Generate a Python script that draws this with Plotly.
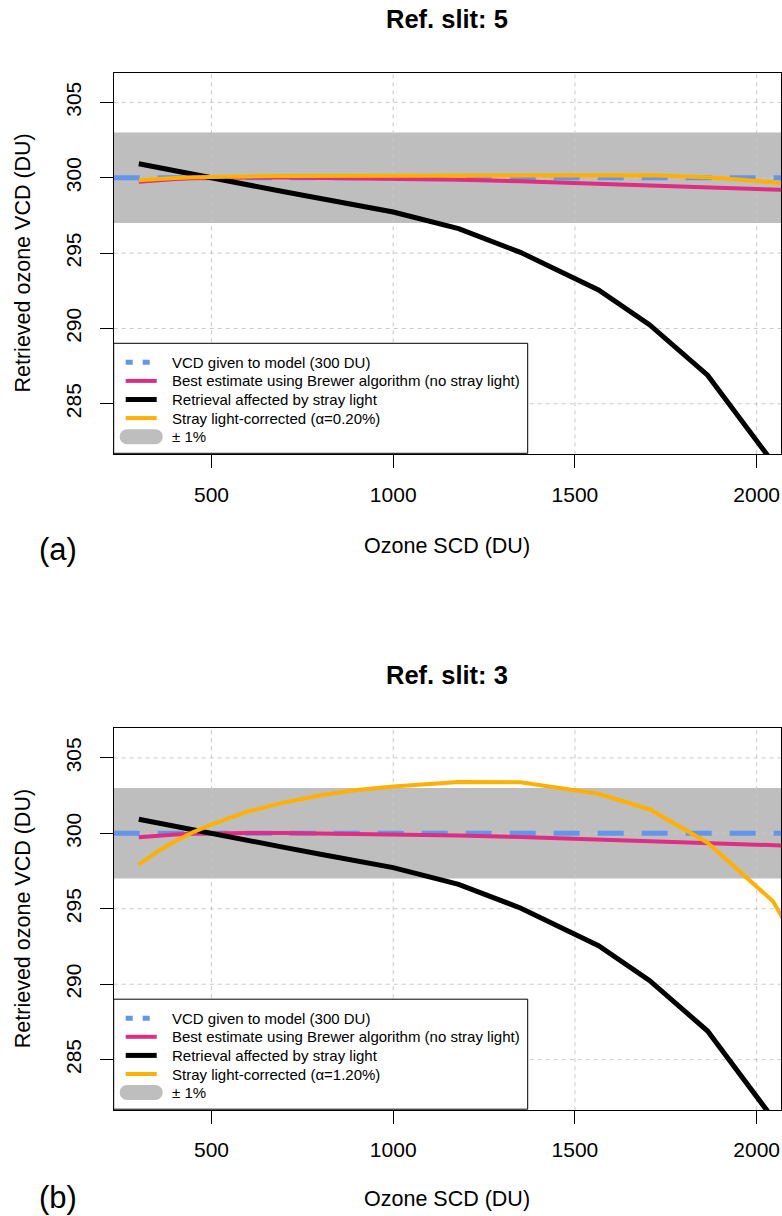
import plotly.graph_objects as go

# ---------------- data ----------------
SCD = [300, 350, 400, 450, 500, 600, 700, 800, 900, 1000, 1180, 1350, 1565, 1705, 1865, 2045, 2100]
BREWER = [299.74, 299.84, 299.92, 299.97, 300.00, 300.02, 300.02, 300.00, 299.97, 299.94,
          299.86, 299.76, 299.58, 299.47, 299.35, 299.22, 299.17]
STRAY = [300.93, 300.69, 300.45, 300.21, 299.97, 299.52, 299.07, 298.62, 298.18, 297.73,
         296.62, 295.05, 292.55, 290.25, 286.90, 281.10, 278.90]
CORR_SLIT5 = [299.84, 299.93, 299.99, 300.03, 300.06, 300.09, 300.11, 300.12, 300.13, 300.13,
              300.14, 300.18, 300.21, 300.17, 300.03, 299.70, 299.52]
CORR_SLIT3 = [297.92, 298.77, 299.48, 300.08, 300.58, 301.45, 302.05, 302.52, 302.88, 303.10,
              303.40, 303.38, 302.62, 301.60, 299.38, 295.50, 293.20]
VCD_MODEL = 300
BAND_FRAC = 0.01
SLITS = ["5", "3"]
ALPHAS = ["0.20", "1.20"]
PANEL_TAGS = ["(a)", "(b)"]
CORRECTED = [CORR_SLIT5, CORR_SLIT3]
X_TICKS = [500, 1000, 1500, 2000]
Y_TICKS = [285, 290, 295, 300, 305]
LEGEND_LABELS = ["VCD given to model (300 DU)",
                 "Best estimate using Brewer algorithm (no stray light)",
                 "Retrieval affected by stray light",
                 "Stray light-corrected (\u03b1={}%)",
                 "\u00b1 1%"]

# ---------------- style ----------------
FONT = "Liberation Sans, Arial, Helvetica, sans-serif"
BLUE = "#6495ED"
PINK = "#DE2D82"
BLACK = "#000000"
ORANGE = "#FFB000"
GREY = "#BEBEBE"
GRID = "#C8C8C8"
W, H = 782, 1216
X_RANGE = [231, 2067]
Y_RANGE = [281.65, 306.97]
PLOT_LEFT, PLOT_RIGHT = 113.7, 781.0
PLOT_TOP = [72.7, 728.2]
PLOT_BOT = [454.3, 1110.2]
TITLE_Y = [19.0, 675.0]
XTITLE_Y = [546.0, 1199.0]
TAG_Y = [549.0, 1197.0]
LEG_W, LEG_H = 414.0, 110.0
LEG_ROW0, LEG_ROW_STEP = 19.0, 18.6


def px_x(v):
    return v / W


def px_y(v):
    return 1 - v / H


def rounded_bar(x0, x1, yc, hgt):
    """SVG path (paper coords) for a bar with round ends, given in pixels."""
    r = hgt / 2
    k = 0.5523 * r
    y0, y1 = yc - r, yc + r
    p = lambda x, y: "{:.6f},{:.6f}".format(px_x(x), px_y(y))
    path = "M" + p(x0 + r, y0) + " L" + p(x1 - r, y0)
    path += " C" + p(x1 - r + k, y0) + " " + p(x1, yc - k) + " " + p(x1, yc)
    path += " C" + p(x1, yc + k) + " " + p(x1 - r + k, y1) + " " + p(x1 - r, y1)
    path += " L" + p(x0 + r, y1)
    path += " C" + p(x0 + r - k, y1) + " " + p(x0, yc + k) + " " + p(x0, yc)
    path += " C" + p(x0, yc - k) + " " + p(x0 + r - k, y0) + " " + p(x0 + r, y0) + " Z"
    return path


fig = go.Figure()
shapes = []
annotations = []
layout_axes = {}

for i in range(2):
    n = "" if i == 0 else str(i + 1)
    xa, ya = "x" + n, "y" + n
    corr = CORRECTED[i]

    fig.add_trace(go.Scatter(x=SCD, y=BREWER, mode="lines", xaxis=xa, yaxis=ya,
                             name=LEGEND_LABELS[1], showlegend=False,
                             line=dict(color=PINK, width=4)))
    fig.add_trace(go.Scatter(x=SCD, y=STRAY, mode="lines", xaxis=xa, yaxis=ya,
                             name=LEGEND_LABELS[2], showlegend=False,
                             line=dict(color=BLACK, width=5)))
    fig.add_trace(go.Scatter(x=SCD, y=corr, mode="lines", xaxis=xa, yaxis=ya,
                             name=LEGEND_LABELS[3].format(ALPHAS[i]), showlegend=False,
                             line=dict(color=ORANGE, width=4)))

    # +-1 % band, then dashed grid, then reference VCD line (all beneath the curves)
    shapes.append(dict(type="rect", xref=xa + " domain", yref=ya, x0=0, x1=1,
                       y0=VCD_MODEL * (1 - BAND_FRAC), y1=VCD_MODEL * (1 + BAND_FRAC),
                       fillcolor=GREY, line=dict(width=0), layer="below"))
    for t in X_TICKS:
        shapes.append(dict(type="line", xref=xa, yref=ya + " domain", x0=t, x1=t, y0=0, y1=1,
                           line=dict(color=GRID, width=1, dash="4px,4px"), layer="below"))
    for t in Y_TICKS:
        shapes.append(dict(type="line", xref=xa + " domain", yref=ya, x0=0, x1=1, y0=t, y1=t,
                           line=dict(color=GRID, width=1, dash="4px,4px"), layer="below"))
    shapes.append(dict(type="line", xref=xa + " domain", yref=ya, x0=0, x1=1,
                       y0=VCD_MODEL, y1=VCD_MODEL,
                       line=dict(color=BLUE, width=5, dash="26px,18px"), layer="below"))

    axis_common = dict(showline=True, mirror=True, linecolor="black", linewidth=1,
                       showgrid=False, zeroline=False, ticks="outside", ticklen=13,
                       tickwidth=1, tickcolor="black",
                       tickfont=dict(family=FONT, size=21, color="black"))
    layout_axes["xaxis" + n] = dict(axis_common, range=X_RANGE, tickvals=X_TICKS,
                                    domain=[px_x(PLOT_LEFT), px_x(PLOT_RIGHT)], anchor=ya,
                                    ticklabelstandoff=8)
    layout_axes["yaxis" + n] = dict(axis_common, range=Y_RANGE, tickvals=Y_TICKS,
                                    domain=[px_y(PLOT_BOT[i]), px_y(PLOT_TOP[i])], anchor=xa,
                                    tickangle=-90, ticklabelstandoff=10)

    # ---- legend box (bottom-left corner of the plot) ----
    lx0 = PLOT_LEFT
    ly1 = PLOT_BOT[i] - 1
    ly0 = ly1 - LEG_H
    shapes.append(dict(type="rect", xref="paper", yref="paper",
                       x0=px_x(lx0), x1=px_x(lx0 + LEG_W), y0=px_y(ly1), y1=px_y(ly0),
                       fillcolor="white", line=dict(color="black", width=1), layer="above"))
    rows = [ly0 + LEG_ROW0 + k * LEG_ROW_STEP for k in range(5)]
    sx0, sx1 = lx0 + 12, lx0 + 43
    shapes.append(dict(type="line", xref="paper", yref="paper",
                       x0=px_x(sx0), x1=px_x(sx0 + 25), y0=px_y(rows[0]), y1=px_y(rows[0]),
                       line=dict(color=BLUE, width=5, dash="7px,10px"), layer="above"))
    for k, col in [(1, PINK), (2, BLACK), (3, ORANGE)]:
        shapes.append(dict(type="line", xref="paper", yref="paper",
                           x0=px_x(sx0), x1=px_x(sx1), y0=px_y(rows[k]), y1=px_y(rows[k]),
                           line=dict(color=col, width=5 if col == BLACK else 4),
                           layer="above"))
    shapes.append(dict(type="path", xref="paper", yref="paper",
                       path=rounded_bar(lx0 + 6, lx0 + 49, rows[4], 15),
                       fillcolor=GREY, line=dict(width=0), layer="above"))
    labels = [LEGEND_LABELS[0], LEGEND_LABELS[1], LEGEND_LABELS[2],
              LEGEND_LABELS[3].format(ALPHAS[i]), LEGEND_LABELS[4]]
    for k, lab in enumerate(labels):
        annotations.append(dict(text=lab, xref="paper", yref="paper",
                                x=px_x(lx0 + 56), y=px_y(rows[k]), xanchor="left",
                                yanchor="middle", showarrow=False,
                                font=dict(family=FONT, size=15, color="black")))

    cx = px_x((PLOT_LEFT + PLOT_RIGHT) / 2)
    annotations += [
        dict(text="<b>Ref. slit: " + SLITS[i] + "</b>", xref="paper", yref="paper",
             x=cx, y=px_y(TITLE_Y[i]), xanchor="center", yanchor="middle", showarrow=False,
             font=dict(family=FONT, size=25.5, color="black")),
        dict(text="Ozone SCD (DU)", xref="paper", yref="paper",
             x=cx, y=px_y(XTITLE_Y[i]), xanchor="center", yanchor="middle", showarrow=False,
             font=dict(family=FONT, size=21.5, color="black")),
        dict(text="Retrieved ozone VCD (DU)", xref="paper", yref="paper",
             x=px_x(23), y=px_y((PLOT_TOP[i] + PLOT_BOT[i]) / 2), xanchor="center",
             yanchor="middle", textangle=-90, showarrow=False,
             font=dict(family=FONT, size=21.5, color="black")),
        dict(text=PANEL_TAGS[i], xref="paper", yref="paper",
             x=px_x(57.5), y=px_y(TAG_Y[i]), xanchor="center", yanchor="middle",
             showarrow=False, font=dict(family=FONT, size=31, color="black")),
    ]

fig.update_layout(
    width=W, height=H, autosize=False,
    margin=dict(l=0, r=0, t=0, b=0),
    paper_bgcolor="white", plot_bgcolor="white",
    font=dict(family=FONT, color="black"),
    showlegend=False, hovermode=False,
    shapes=shapes, annotations=annotations,
    **layout_axes,
)

fig.write_html("out.html",
               config={"displayModeBar": False, "staticPlot": True},
               post_script="document.body.style.margin='0px';"
                           "document.documentElement.style.overflow='hidden';")
